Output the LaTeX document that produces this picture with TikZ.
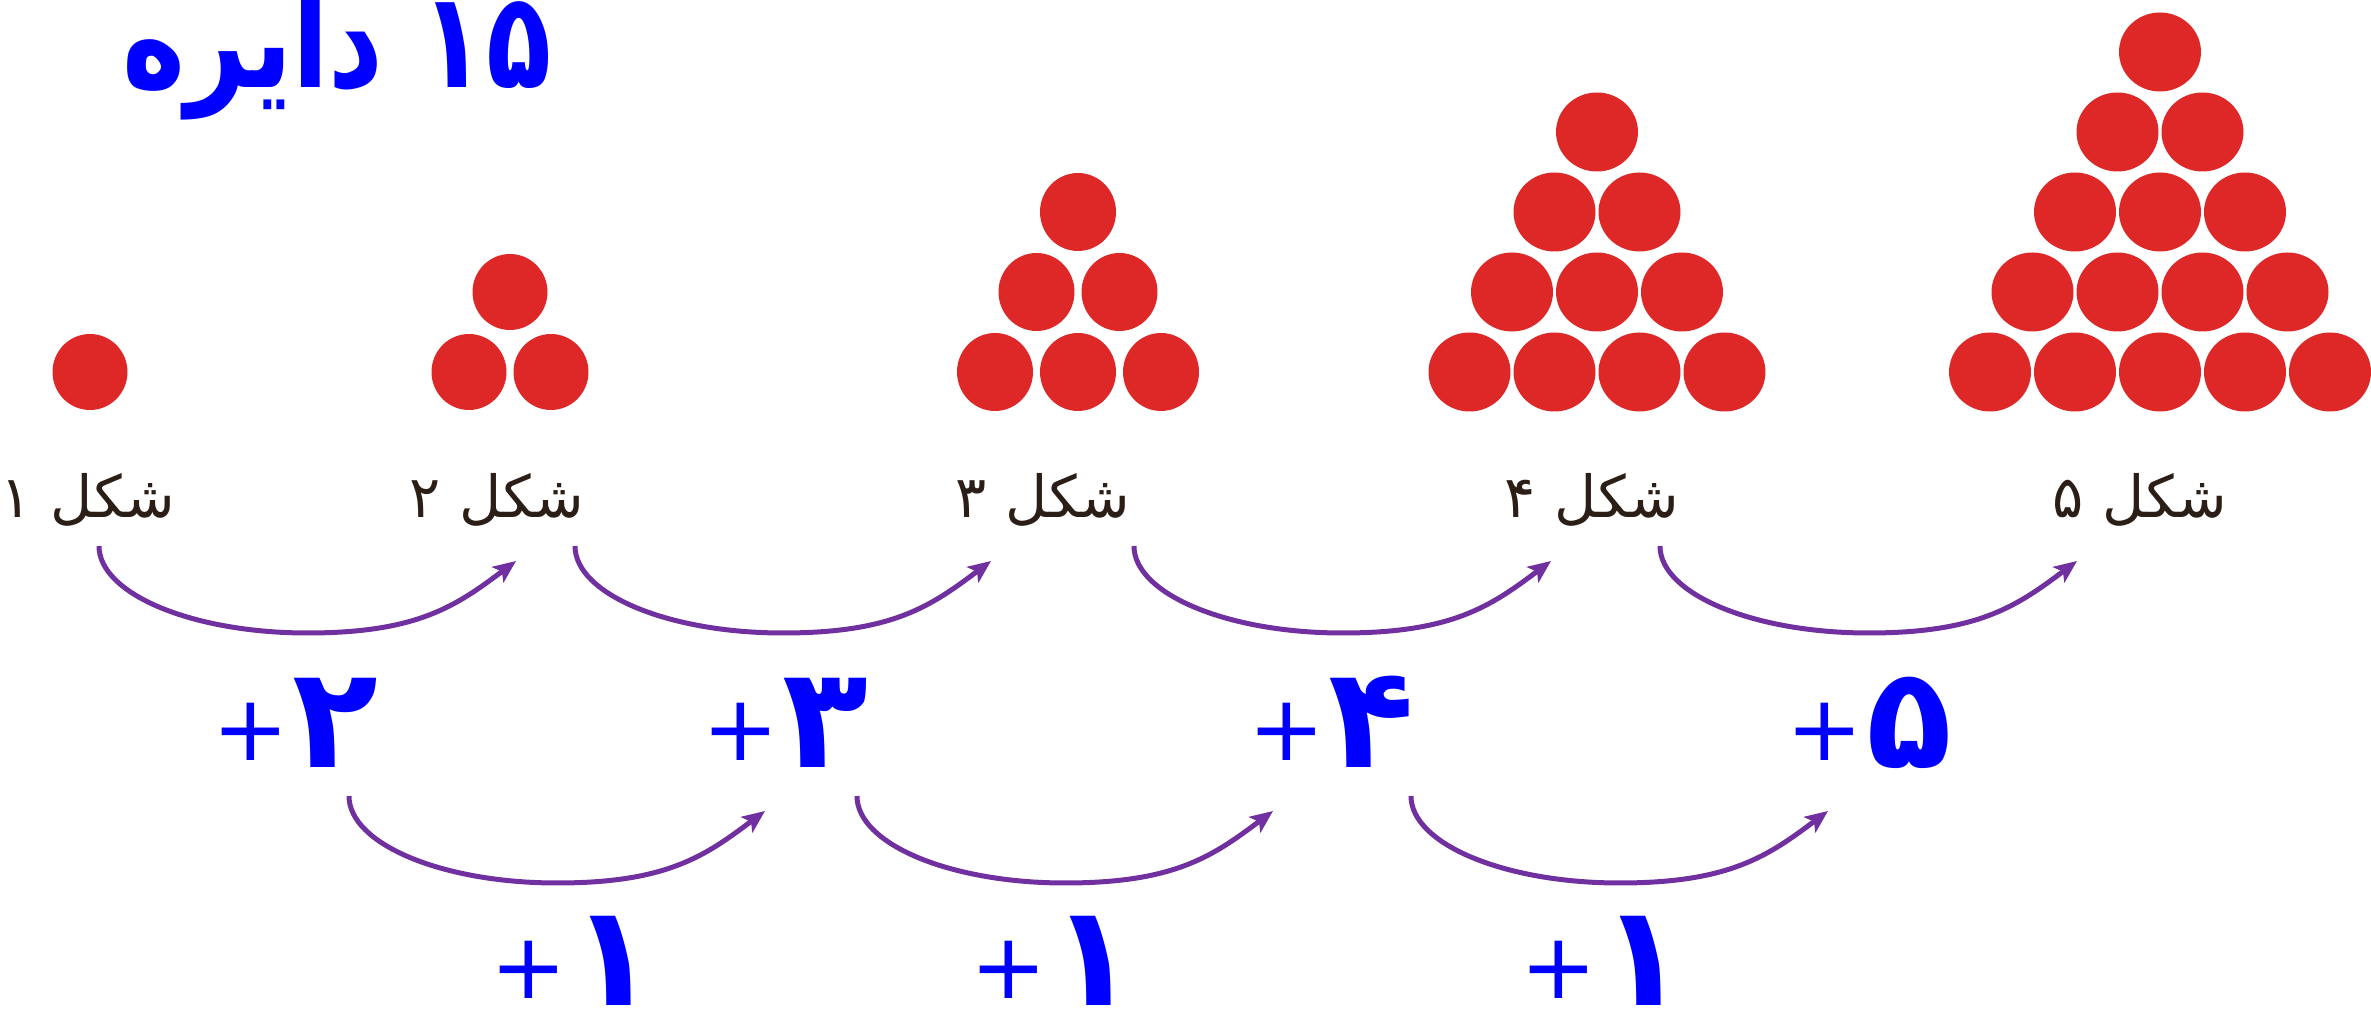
\documentclass[tikz,border=0pt]{standalone}
\usepackage{fontspec}
\usetikzlibrary{arrows.meta}
\TeXXeTstate=1
\newfontfamily\arabicfont[Script=Arabic]{DejaVu Sans}
\newfontfamily\plusfont{DejaVu Sans}
\definecolor{dotred}{RGB}{222,40,40}
\definecolor{bumppurple}{RGB}{112,48,160}
\definecolor{figbrown}{RGB}{43,30,22}
\newcommand{\plusnum}[1]{\raisebox{0.07cm}{\plusfont\fontsize{26}{26}\selectfont +}\kern1pt{\arabicfont\bfseries\fontsize{40}{40}\selectfont #1}}

\begin{document}
\begin{tikzpicture}[x=0.01cm,y=-0.01cm,
    figlabel/.style={text=figbrown,anchor=base,inner sep=0pt,font=\arabicfont\fontsize{16.5}{16.5}\selectfont},
    stepnum/.style={text=blue,anchor=base,inner sep=0pt,text depth=0pt},
    bump/.style={bumppurple,line width=1.42pt,-{Stealth[length=6.5pt,width=5.5pt,inset=1.5pt]}}]
        \useasboundingbox (0,0) rectangle (2371,1016);
        % title
        \node[stepnum,text height=0.8cm,transform shape,xscale=0.8,font=\arabicfont\bfseries\fontsize{38}{38}\selectfont] (title) at (337,88) {\beginR\beginL ۱۵\endL{} دایره\endR};
        % the five triangles of dots
        \foreach \n/\cx/\dx/\rx/\ry in {1/90/82/37.5/38, 2/510/82/37.5/38, 3/1078/83/38/39, 4/1597/85/41/39.5, 5/2160/85/41/39.5}
            \foreach \r in {1,...,\n}
                \foreach \k in {1,...,\r}
                    \fill[dotred] ({\cx+(\k-(\r+1)/2)*\dx},{372-(\n-\r)*80}) ellipse [x radius=\rx,y radius=\ry];
        \node[figlabel] (fig1) at (88,518) {\beginR شکل ۱\endR};
        \node[figlabel] (fig2) at (497,518) {\beginR شکل ۲\endR};
        \node[figlabel] (fig3) at (1043,518) {\beginR شکل ۳\endR};
        \node[figlabel] (fig4) at (1592,518) {\beginR شکل ۴\endR};
        \node[figlabel] (fig5) at (2140,518) {\beginR شکل ۵\endR};
        % curved arrows
        \foreach \i/\xs/\xe/\ys in {1/99/516/546, 2/575/991/546, 3/1134/1551/546, 4/1660/2077/546, 5/349/765/796, 6/857/1273/796, 7/1411/1828/796} {
            \coordinate (s\i) at (\xs,\ys);
            \coordinate (m\i) at ({(\xs+\xe)/2},\ys+87);
            \coordinate (e\i) at (\xe,\ys+15);
            \draw[bump] (s\i) .. controls +(0,48) and +(-115,0) .. (m\i) .. controls +(110,0) and +(-60,45) .. (e\i);
        }
        \node[stepnum] (add2) at (295,768) {\plusnum{۲}};
        \node[stepnum] (add3) at (785,768) {\plusnum{۳}};
        \node[stepnum] (add4) at (1331,768) {\plusnum{۴}};
        \node[stepnum] (add5) at (1869,768) {\plusnum{۵}};
        \node[stepnum] (one1) at (573,1006) {\plusnum{۱}};
        \node[stepnum] (one2) at (1053,1006) {\plusnum{۱}};
        \node[stepnum] (one3) at (1603,1006) {\plusnum{۱}};
    \end{tikzpicture}
\end{document}
